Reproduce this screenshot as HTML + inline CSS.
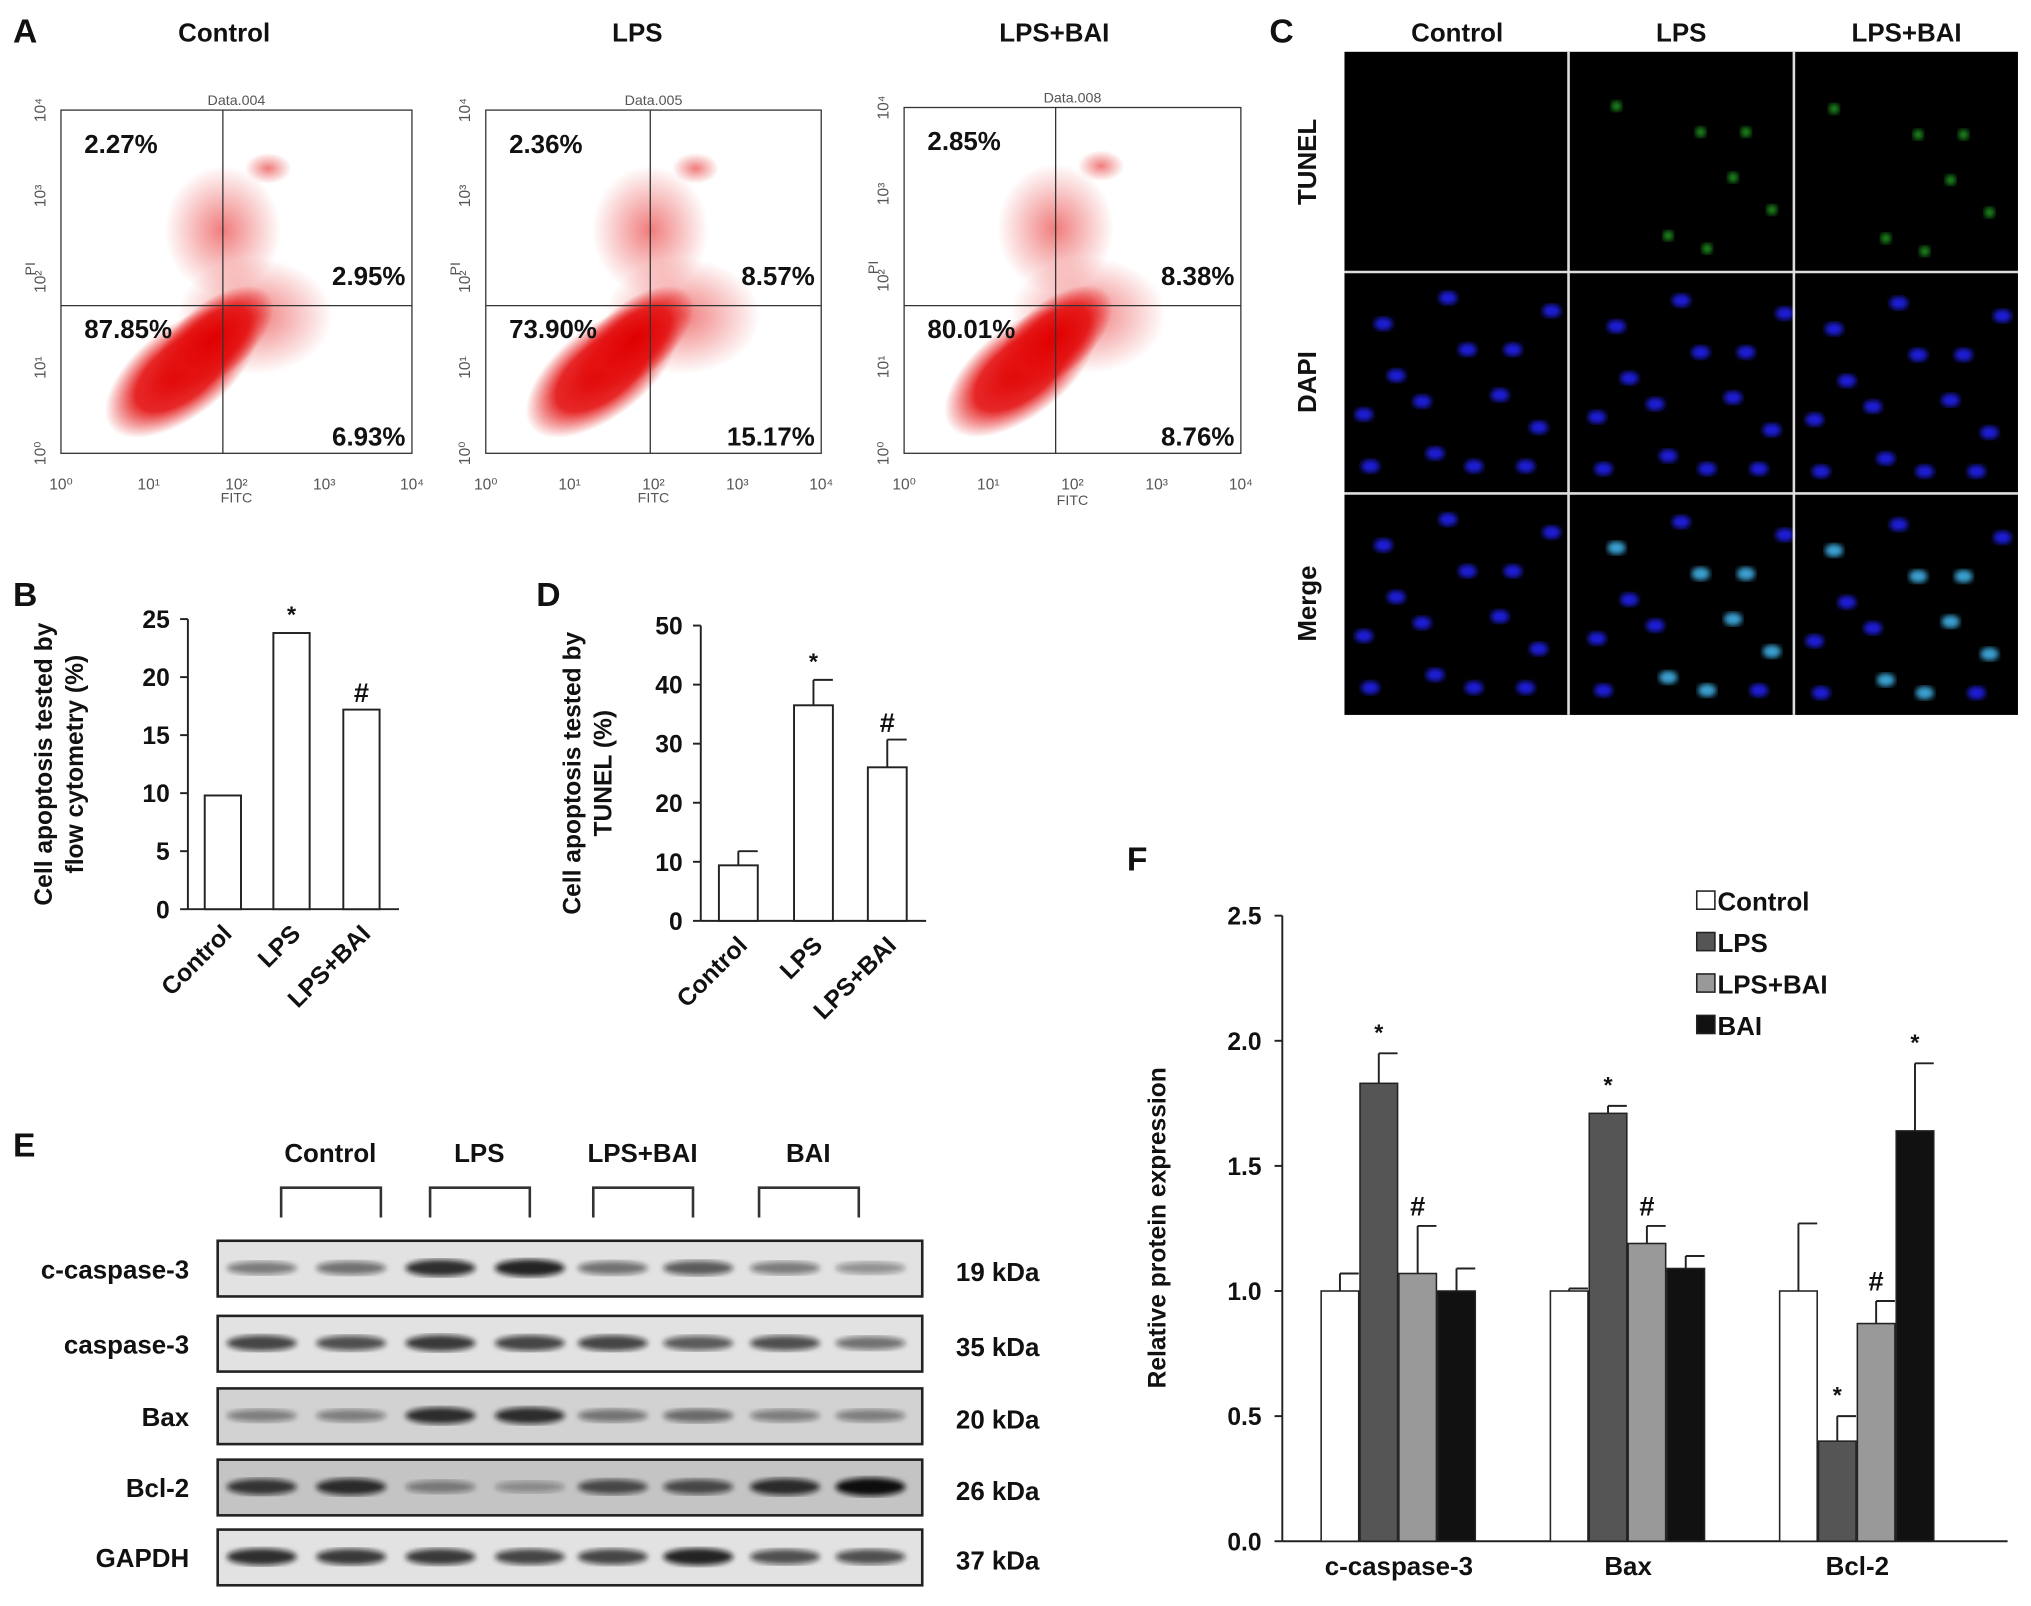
<!DOCTYPE html>
<html><head><meta charset="utf-8"><style>
html,body{margin:0;padding:0;background:#fff}
svg{display:block}
text{font-family:"Liberation Sans",Arial,sans-serif;font-weight:bold;fill:#111}
.sm{font-weight:normal;fill:#555}
</style></head><body>
<svg id="fig" width="2031" height="1606" viewBox="0 0 1568 1240" xmlns="http://www.w3.org/2000/svg">
<defs>
<radialGradient id="rg"><stop offset="0" stop-color="#e00000" stop-opacity="1"/><stop offset="0.6" stop-color="#e41010" stop-opacity="0.9"/><stop offset="1" stop-color="#e41010" stop-opacity="0"/></radialGradient>
<radialGradient id="rg2"><stop offset="0" stop-color="#e41010" stop-opacity="0.55"/><stop offset="1" stop-color="#e41010" stop-opacity="0"/></radialGradient>
<radialGradient id="bn"><stop offset="0" stop-color="#2222ee"/><stop offset="1" stop-color="#1010a0"/></radialGradient>
<filter id="bl"><feGaussianBlur stdDeviation="2"/></filter>
</defs>
<g id="panelA"></g>
<g id="panelC"></g>
<g id="panelB"></g>
<g id="panelD"></g>
<g id="panelE"></g>
<g id="panelF"></g>
</svg>
<script>
const NS="http://www.w3.org/2000/svg";
// ---- data ----
const flowGroups=["Control","LPS","LPS+BAI"];
const flowTitles=["Data.004","Data.005","Data.008"];
const flowUL=["2.27%","2.36%","2.85%"];
const flowUR=["2.95%","8.57%","8.38%"];
const flowLL=["87.85%","73.90%","80.01%"];
const flowLR=["6.93%","15.17%","8.76%"];
const bCategories=["Control","LPS","LPS+BAI"];
const bValues=[9.8,23.8,17.2];
const bMarks=["","*","#"];
const bTicks=[0,5,10,15,20,25];
const dCategories=["Control","LPS","LPS+BAI"];
const dValues=[9.4,36.5,26.0];
const dErrors=[2.4,4.3,4.7];
const dMarks=["","*","#"];
const dTicks=[0,10,20,30,40,50];
const fCategories=["c-caspase-3","Bax","Bcl-2"];
const fSeriesNames=["Control","LPS","LPS+BAI","BAI"];
const fControl=[1.0,1.0,1.0];
const fLPS=[1.83,1.71,0.40];
const fLPSBAI=[1.07,1.19,0.87];
const fBAI=[1.0,1.09,1.64];
const fErrControl=[0.07,0.01,0.27];
const fErrLPS=[0.12,0.03,0.10];
const fErrLPSBAI=[0.19,0.07,0.09];
const fErrBAI=[0.09,0.05,0.27];
const fMarksLPS=["*","*","*"];
const fMarksLPSBAI=["#","#","#"];
const fMarksBAI=["","","*"];
const fTicks=[0,0.5,1.0,1.5,2.0,2.5];
const blotRows=["c-caspase-3","caspase-3","Bax","Bcl-2","GAPDH"];
const blotKDa=["19 kDa","35 kDa","20 kDa","26 kDa","37 kDa"];
const blotIntensity=[[0.5,0.55,0.85,0.9,0.55,0.65,0.5,0.4],[0.75,0.7,0.8,0.75,0.75,0.65,0.7,0.55],[0.45,0.45,0.85,0.85,0.5,0.55,0.45,0.45],[0.8,0.85,0.45,0.35,0.7,0.7,0.85,1.0],[0.85,0.8,0.8,0.75,0.75,0.9,0.7,0.7]];
const blotGroups=["Control","LPS","LPS+BAI","BAI"];

function el(tag,attrs,parent,txt){const e=document.createElementNS(NS,tag);for(const k in attrs)e.setAttribute(k,attrs[k]);if(txt!==undefined)e.textContent=txt;parent.appendChild(e);return e;}
function T(p,x,y,s,size,anchor,extra){const a=Object.assign({x:x,y:y,"font-size":size,"text-anchor":anchor||"middle"},extra||{});return el("text",a,p,s);}

// ---- panel letters ----
const fig=document.getElementById("fig");
[["A",10,33],["B",10,468],["C",980,33],["D",414,468],["E",10,893],["F",870,672]].forEach(l=>{const t=T(fig,l[1],l[2],l[0],26,"start");

});

// ---- Panel A ----
const A=document.getElementById("panelA");
const boxes=[[47,85,318,350,172,236],[375,85,634,350,502,236],[698,83,958,350,815,236]];
const groupX=[173,492,814];
const decades=["10⁰","10¹","10²","10³","10⁴"];
boxes.forEach((b,i)=>{
 const g=el("g",{},A);
 
 
 T(A,groupX[i],32,flowGroups[i],20);
 const [x0,y0,x1,y1,qx,qy]=b;
 // density clouds
 const cx=x0+(x1-x0)*0.27, cy=y0+(y1-y0)*0.8;
 el("ellipse",{cx:qx,cy:y0+(y1-y0)*0.35,rx:45,ry:50,fill:"url(#rg2)"},g);
 el("ellipse",{cx:qx+25,cy:y0+(y1-y0)*0.6,rx:60,ry:45,fill:"url(#rg2)"},g);
 el("ellipse",{cx:cx+20,cy:cy-10,rx:70,ry:35,fill:"url(#rg)",transform:`rotate(-38 ${cx+20} ${cy-10})`},g);
 el("ellipse",{cx:cx+45,cy:cy-35,rx:55,ry:28,fill:"url(#rg)",transform:`rotate(-40 ${cx+45} ${cy-35})`},g);
 el("ellipse",{cx:qx+35,cy:y0+45,rx:18,ry:12,fill:"url(#rg2)"},g);
 el("rect",{x:x0,y:y0,width:x1-x0,height:y1-y0,fill:"none",stroke:"#333","stroke-width":1},g);
 el("line",{x1:qx,y1:y0,x2:qx,y2:y1,stroke:"#333"},g);
 el("line",{x1:x0,y1:qy,x2:x1,y2:qy,stroke:"#333"},g);
 T(g,(x0+x1)/2,y0-4,flowTitles[i],11,"middle",{class:"sm"});
 T(g,(x0+x1)/2,y1+38-(i==2?-2:0),"FITC",11,"middle",{class:"sm"});
 T(g,x0-20,(y0+y1)/2-10,"PI",11,"middle",{class:"sm",transform:`rotate(-90 ${x0-20} ${(y0+y1)/2-10})`});
 decades.forEach((d,k)=>{const xx=x0+(x1-x0)*k/4, yy=y1-(y1-y0)*k/4;
  T(g,xx,y1+28,d,12,"middle",{class:"sm"});
  T(g,x0-12,yy,d,12,"middle",{class:"sm",transform:`rotate(-90 ${x0-12} ${yy})`});});
 T(g,x0+18,y0+33,flowUL[i],20,"start");
 T(g,x1-5,qy-16,flowUR[i],20,"end");
 T(g,x0+18,qy+25,flowLL[i],20,"start");
 T(g,x1-5,y1-6,flowLR[i],20,"end");
});

// ---- Panel C ----
const C=document.getElementById("panelC");
const cx0=1038,cy0=40,cw=520,ch=512;
el("rect",{x:cx0,y:cy0,width:cw,height:ch,fill:"#000"},C);
const nuclei=[[30,40],[80,20],[130,60],[60,100],[150,120],[20,150],[100,150],[40,80],[120,95],[160,30],[70,140],[140,150],[95,60],[15,110]];
const cols=["Control","LPS","LPS+BAI"],rows=["TUNEL","DAPI","Merge"];
const colX=[1038,1211,1385],rowY=[40,210,381];
cols.forEach((c,i)=>T(C,colX[i]+87,32,c,20));
rows.forEach((r,j)=>{T(C,1016,rowY[j]+85,r,20,"middle",{transform:`rotate(-90 1016 ${rowY[j]+85})`});
 cols.forEach((c,i)=>{nuclei.forEach((n,k)=>{const x=colX[i]+n[0]+(i*7)%13,y=rowY[j]+n[1]+(i*11)%9;
  let col=null;
  if(j===0){ if(i>0 && k%2===0) col="#1c8a1c"; }
  else if(j===1) col="#1a1ad8";
  else col=(i>0&&k%2===0)?"#3aa0d0":"#1a1ad8";
  if(col) el("ellipse",{cx:x,cy:y,rx:j===0?4:7,ry:j===0?4:5,fill:col,filter:"url(#bl)"},C);});});});
el("line",{x1:1211,y1:40,x2:1211,y2:552,stroke:"#ddd","stroke-width":2},C);
el("line",{x1:1385,y1:40,x2:1385,y2:552,stroke:"#ddd","stroke-width":2},C);
el("line",{x1:1038,y1:210,x2:1558,y2:210,stroke:"#ddd","stroke-width":2},C);
el("line",{x1:1038,y1:381,x2:1558,y2:381,stroke:"#ddd","stroke-width":2},C);

// ---- generic bar chart for B and D ----
function smallBar(G,ax,y0,yTop,maxV,ticks,cats,vals,errs,marks,x0s,bw,ylab1,ylab2,labX){
 const ys=v=>y0-(y0-yTop)*v/maxV;
 el("line",{x1:ax,y1:ys(maxV),x2:ax,y2:y0,stroke:"#222","stroke-width":1.5},G);
 el("line",{x1:ax,y1:y0,x2:x0s[x0s.length-1]+bw+15,y2:y0,stroke:"#222","stroke-width":1.5},G);
 ticks.forEach(t=>{el("line",{x1:ax-6,y1:ys(t),x2:ax,y2:ys(t),stroke:"#222","stroke-width":1.5},G);T(G,ax-14,ys(t)+7,String(t),19,"end");});
 cats.forEach((c,i)=>{const x=x0s[i];
  const r=el("rect",{x:x,y:ys(vals[i]),width:bw,height:y0-ys(vals[i]),fill:"#fff",stroke:"#222","stroke-width":1.5},G);
  
  
  let top=vals[i];
  if(errs){top=vals[i]+errs[i];el("line",{x1:x+bw/2,y1:ys(vals[i]),x2:x+bw/2,y2:ys(top),stroke:"#222","stroke-width":1.5},G);el("line",{x1:x+bw/2,y1:ys(top),x2:x+bw,y2:ys(top),stroke:"#222","stroke-width":1.5},G);}
  if(marks[i]) T(G,x+bw/2,ys(top)-(marks[i]=="*"?8:6),marks[i],marks[i]=="*"?18:21);
  const lx=x+bw/2+8,ly=y0+20;
  T(G,lx,ly,c,19,"end",{transform:`rotate(-45 ${lx} ${ly})`});
 });
 T(G,labX,(y0+yTop)/2,ylab1,19,"middle",{transform:`rotate(-90 ${labX} ${(y0+yTop)/2})`});
 T(G,labX+24,(y0+yTop)/2,ylab2,19,"middle",{transform:`rotate(-90 ${labX+24} ${(y0+yTop)/2})`});
}
smallBar(document.getElementById("panelB"),145,702,478,25,bTicks,bCategories,bValues,null,bMarks,[158,211,265],28,"Cell apoptosis tested by","flow cytometry (%)",40);
smallBar(document.getElementById("panelD"),541,711,483,50,dTicks,dCategories,dValues,dErrors,dMarks,[555,613,670],30,"Cell apoptosis tested by","TUNEL (%)",448);

// ---- Panel E ----
const E=document.getElementById("panelE");
const laneX=[202,271,340,409,473,539,606,672];
const blotY=[958,1016,1072,1127,1181];
const groupCx=[255,370,496,624];
blotGroups.forEach((g,i)=>{T(E,groupCx[i],897,g,20);
 const lx=groupCx[i]-38,rx=groupCx[i]+39;
 el("path",{d:`M${lx} 940 V917 H${rx} V940`,fill:"none",stroke:"#333","stroke-width":2},E);});
blotRows.forEach((r,j)=>{const y=blotY[j];
 const g=el("g",{},E);
 
 
 el("rect",{x:168,y:y,width:544,height:43,fill:j===3?"#c4c4c4":(j===2?"#d2d2d2":"#e2e2e2"),stroke:"#222","stroke-width":2},g);
 laneX.forEach((lx,k)=>{const it=blotIntensity[j][k];
  el("ellipse",{cx:lx,cy:y+21,rx:27,ry:3+4*it,fill:"#111","fill-opacity":it,filter:"url(#bl)"},g);});
 T(E,146,y+29,r,20,"end");
 T(E,738,y+31,blotKDa[j],20,"start");
});

// ---- Panel F ----
const F=document.getElementById("panelF");
const fx=990,fy0=1190,fyTop=707,fMax=2.5;
const yF=v=>fy0-(fy0-fyTop)*v/fMax;
const groupStart=[1020,1197,1374];
const bwF=29;
const series=[fControl,fLPS,fLPSBAI,fBAI];
const errs=[fErrControl,fErrLPS,fErrLPSBAI,fErrBAI];
const marks=[["","",""],fMarksLPS,fMarksLPSBAI,fMarksBAI];
const fills=["#ffffff","#555555","#999999","#111111"];
el("line",{x1:fx,y1:fyTop,x2:fx,y2:fy0,stroke:"#222","stroke-width":1.5},F);
el("line",{x1:fx,y1:fy0,x2:1550,y2:fy0,stroke:"#222","stroke-width":1.5},F);
fTicks.forEach(t=>{el("line",{x1:fx-6,y1:yF(t),x2:fx,y2:yF(t),stroke:"#222","stroke-width":1.5},F);T(F,fx-16,yF(t)+7,t.toFixed(1),19,"end");});
fCategories.forEach((c,i)=>{
 series.forEach((s,k)=>{const x=groupStart[i]+k*(bwF+1),v=s[i],e=errs[k][i];
  const r=el("rect",{x:x,y:yF(v),width:bwF,height:fy0-yF(v),fill:fills[k],stroke:"#222","stroke-width":1.2},F);
  
  
  el("line",{x1:x+bwF/2,y1:yF(v),x2:x+bwF/2,y2:yF(v+e),stroke:"#222","stroke-width":1.5},F);
  el("line",{x1:x+bwF/2,y1:yF(v+e),x2:x+bwF,y2:yF(v+e),stroke:"#222","stroke-width":1.5},F);
  const m=marks[k][i];
  if(m) T(F,x+bwF/2,yF(v+e)-(m=="*"?10:8),m,m=="*"?18:21);
 });
 T(F,groupStart[i]+60,1216,c,20);
});
T(F,900,948,"Relative protein expression",19,"middle",{transform:"rotate(-90 900 948)"});
fSeriesNames.forEach((n,k)=>{const y=688+k*32;
 const g=el("g",{},F);
 
 
 el("rect",{x:1310,y:y,width:14,height:14,fill:fills[k],stroke:"#222","stroke-width":1.2},g);
 T(g,1326,y+15,n,20,"start");});
</script>
</body></html>
